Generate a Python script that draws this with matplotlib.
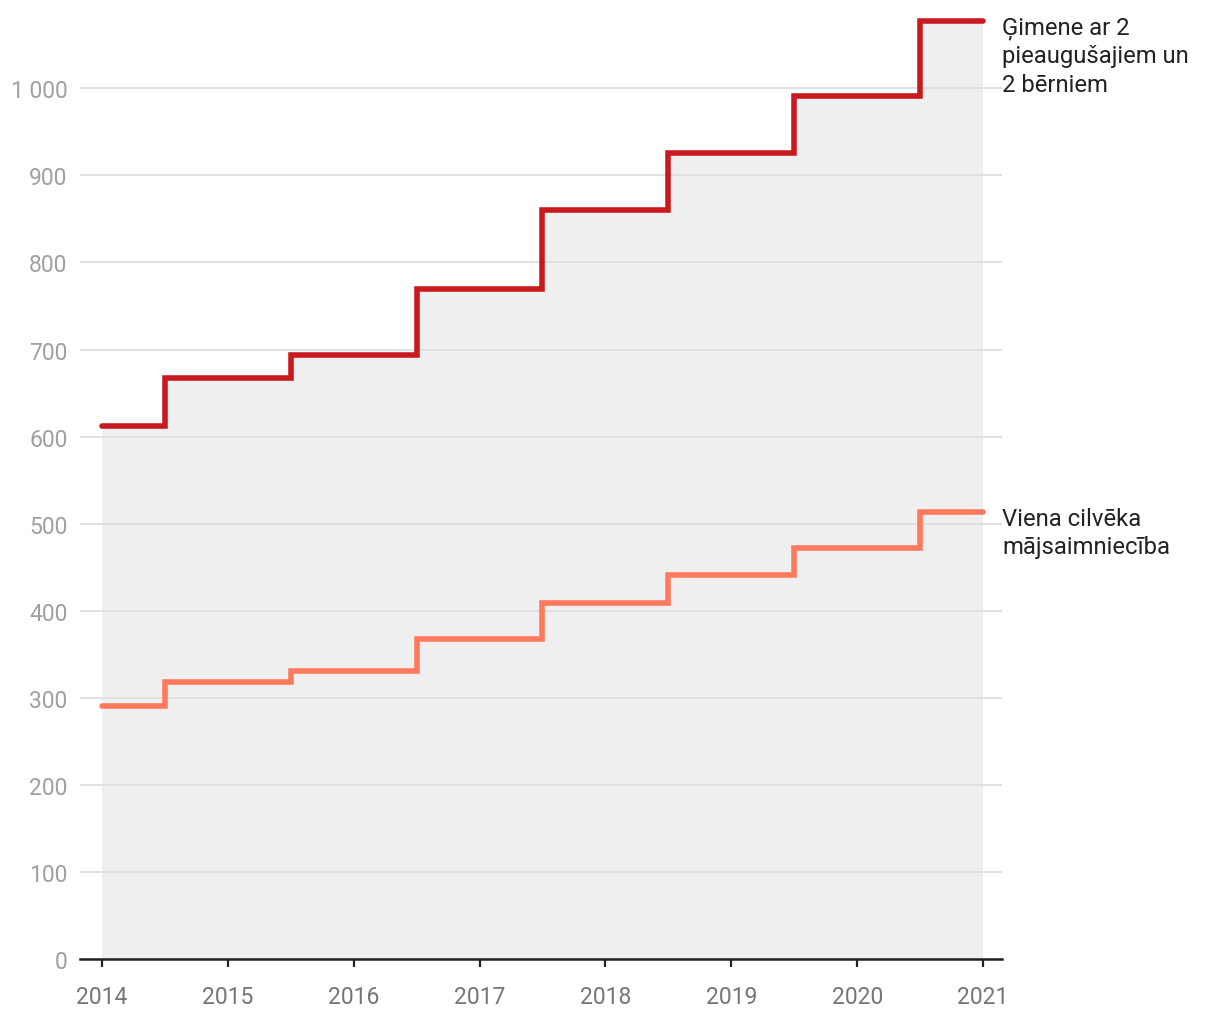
import matplotlib
matplotlib.use("Agg")
import matplotlib.pyplot as plt
from matplotlib.ticker import FuncFormatter

plt.rcParams['font.family'] = ['Roboto', 'DejaVu Sans']

years = [2014, 2015, 2016, 2017, 2018, 2019, 2020, 2021]
family_values = [612, 667, 694, 769, 860, 926, 991, 1077]
single_values = [291, 318, 331, 367, 409, 441, 472, 513]
series_labels = ["Ģimene ar 2\npieaugušajiem un\n2 bērniem", "Viena cilvēka\nmājsaimniecība"]
y_ticks = [0, 100, 200, 300, 400, 500, 600, 700, 800, 900, 1000]

red = "#c8191e"
orange = "#ff7a5c"

fig = plt.figure(figsize=(12.2, 10.2), dpi=100)
ax = fig.add_axes([80/1220, 60/1020, 922/1220, 949/1020])

ax.set_xlim(2014 - 22/125.86, 2021 + 19/125.86)
ax.set_ylim(0, 1090)

ax.fill_between(years, family_values, 0, step='mid', color="#efefef", lw=0, zorder=1)
ax.set_yticks(y_ticks)
ax.yaxis.grid(True, color="#e0e0e0", lw=1.4, zorder=2)
ax.set_axisbelow(False)

for vals, col in [(family_values, red), (single_values, orange)]:
    ax.plot(years, vals, drawstyle='steps-mid', color=col, lw=4.0,
            solid_capstyle='round', solid_joinstyle='miter', zorder=3)

for vals, lab in [(family_values, series_labels[0]), (single_values, series_labels[1])]:
    ax.annotate(lab, xy=(2021, vals[-1]), xytext=(14, 4), textcoords='offset points',
                ha='left', va='top', fontsize=17.2, color="#222222", linespacing=1.3,
                annotation_clip=False)

ax.yaxis.set_major_formatter(FuncFormatter(lambda v, p: f"{int(v):,}".replace(",", " ")))
ax.set_xticks(years)
ax.tick_params(axis='y', length=0, pad=9, labelsize=16.5, labelcolor="#a0a0a0")
ax.tick_params(axis='x', length=6, width=1.6, color="#222222", pad=13, labelsize=16.5,
               labelcolor="#757575")
for s in ['top', 'right', 'left']:
    ax.spines[s].set_visible(False)
ax.spines['bottom'].set_color("#222222")
ax.spines['bottom'].set_linewidth(1.8)
ax.spines['bottom'].set_zorder(4)

fig.savefig("out.png", dpi=100, facecolor="white")
